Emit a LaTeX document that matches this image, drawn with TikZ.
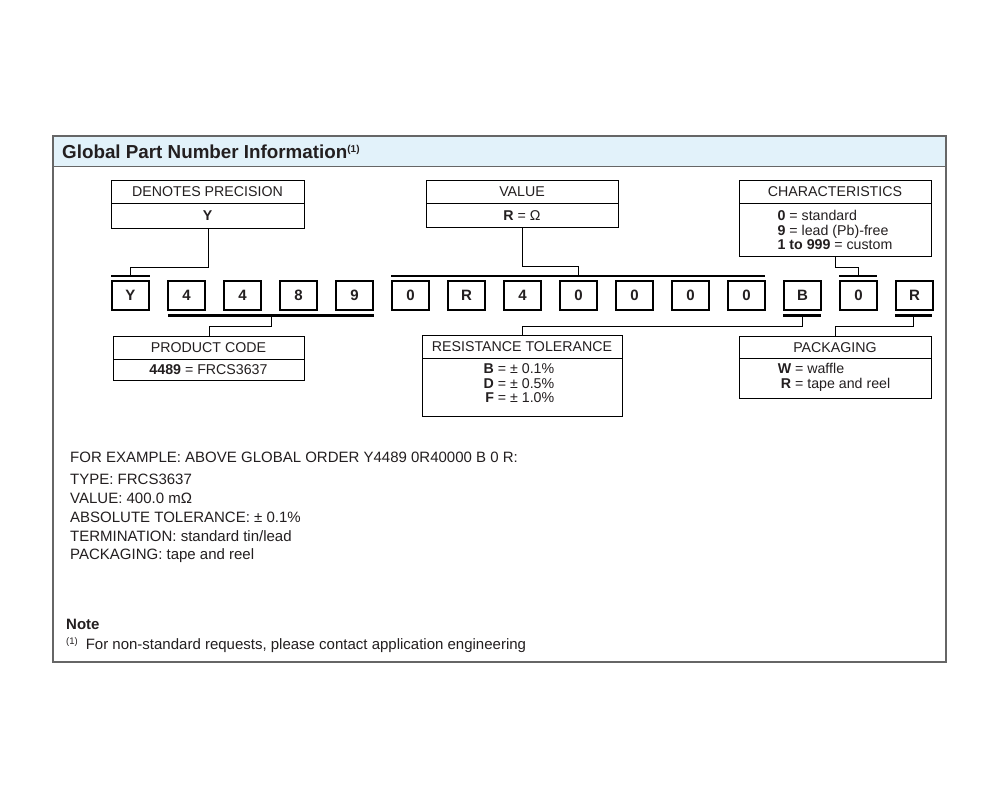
\documentclass[tikz,border=0pt]{standalone}
\usepackage{fontspec}
\setmainfont{Liberation Sans}
\usetikzlibrary{calc}
\definecolor{txt}{HTML}{231F20}
\definecolor{hdr}{HTML}{E2F2FA}
\definecolor{framec}{HTML}{666666}
\begin{document}
\begin{tikzpicture}[x=1pt,y=-1pt,
  every node/.style={text=txt, inner sep=0pt},
  fs/.style={font=\fontsize{14.2}{14.5}\selectfont},
  fl/.style={font=\fontsize{15}{15}\selectfont, anchor=base west},
  lbox/.style={draw=black, line width=0.9pt, anchor=north west, inner sep=0pt},
  letter/.style={draw=black, line width=1.1pt, minimum width=37pt, minimum height=29pt, font=\bfseries\fontsize{15}{15}\selectfont},
  bar/.style={fill=black, minimum height=2.6pt, inner sep=0pt},
  conn/.style={draw=black, line width=0.9pt},
  divider/.style={draw=black, line width=0.9pt}
]
\useasboundingbox (0,0) rectangle (1000,800);
\fill[white] (0,0) rectangle (1000,800);
% frame and header
\filldraw[fill=hdr, draw=framec, line width=1pt] (53,136) rectangle (946,166);
\draw[framec, line width=1.4pt] (53,136) rectangle (946,662);
\node[anchor=west, font=\bfseries\fontsize{18.8}{20}\selectfont] (title) at (62,152) {Global Part Number Information\raisebox{6pt}{\fontsize{10}{10}\selectfont(1)}};

% top boxes
\node[lbox, minimum width=193pt, minimum height=48pt] (dp) at (111,180) {};
\draw[divider] (111,203) -- (304,203);
\node[fs] (dpt) at (207.5,192) {DENOTES PRECISION};
\node[font=\bfseries\fontsize{14.2}{14}\selectfont] (dpv) at (207.5,215.5) {Y};

\node[lbox, minimum width=192pt, minimum height=47pt] (val) at (426,180) {};
\draw[divider] (426,203) -- (618,203);
\node[fs] (valt) at (522,192) {VALUE};
\node[fs] (valv) at (522,215.5) {\textbf{R} = Ω};

\node[lbox, minimum width=192pt, minimum height=76pt] (ch) at (739,180) {};
\draw[divider] (739,203) -- (931,203);
\node[fs] (cht) at (835,192) {CHARACTERISTICS};
\node[fs, align=left] (chv) at (835,230) {\textbf{0} = standard\\\textbf{9} = lead (Pb)-free\\\textbf{1 to 999} = custom};

% letters
\foreach \c [count=\i from 0] in {Y,4,4,8,9,0,R,4,0,0,0,0,B,0,R}
  \node[letter] (l\i) at (130.5+56*\i,295.5) {\c};

% bars
\node[bar, minimum width=39pt] (bY) at (130.5,276) {};
\node[bar, minimum width=374pt] (bV) at (578,276) {};
\node[bar, minimum width=38pt] (bC) at (858,276) {};
\node[bar, minimum width=206pt] (bP) at (271,315.5) {};
\node[bar, minimum width=38pt] (bB) at (802,315.5) {};
\node[bar, minimum width=37pt] (bR) at (913.5,315.5) {};

% bottom boxes
\node[lbox, minimum width=191pt, minimum height=44pt] (pc) at (113,336) {};
\draw[divider] (113,359) -- (304,359);
\node[fs] (pct) at (208.5,347.5) {PRODUCT CODE};
\node[fs] (pcv) at (208.5,369.5) {\textbf{4489} = FRCS3637};

\node[lbox, minimum width=200pt, minimum height=81pt] (rt) at (422,335) {};
\draw[divider] (422,358) -- (622,358);
\node[fs] (rtt) at (522,347) {RESISTANCE TOLERANCE};
\node[fs] (rtv) at (519,385.5) {\fontsize{14.2}{14.5}\selectfont\begin{tabular}{@{}r@{ = }l@{}}\textbf{B} & ± 0.1\%\\\textbf{D} & ± 0.5\%\\\textbf{F} & ± 1.0\%\end{tabular}};

\node[lbox, minimum width=192pt, minimum height=62pt] (pk) at (739,336) {};
\draw[divider] (739,358) -- (931,358);
\node[fs] (pkt) at (835,347.5) {PACKAGING};
\node[fs] (pkv) at (834,378) {\fontsize{14.2}{14.5}\selectfont\begin{tabular}{@{}r@{ = }l@{}}\textbf{W} & waffle\\\textbf{R} & tape and reel\end{tabular}};

% connectors
\draw[conn] (dp.south) -- ++(0,39) -| (bY.north);
\draw[conn] (val.south) -- ++(0,39) -| (bV.north);
\draw[conn] (ch.south) -- ++(0,11) -| (bC.north);
\draw[conn] (bP.south) -- ++(0,9) -| (pc.north);
\draw[conn] (bB.south) -- ++(0,9) -| (rt.north);
\draw[conn] (bR.south) -- ++(0,9) -| (pk.north);

% example text
\node[fl] (ex1) at (70,462) {FOR EXAMPLE: ABOVE GLOBAL ORDER Y4489 0R40000 B 0 R:};
\node[fl] (ex2) at (70,484) {TYPE: FRCS3637};
\node[fl] (ex3) at (70,503) {VALUE: 400.0 mΩ};
\node[fl] (ex4) at (70,522) {ABSOLUTE TOLERANCE: ± 0.1\%};
\node[fl] (ex5) at (70,541) {TERMINATION: standard tin/lead};
\node[fl] (ex6) at (70,559) {PACKAGING: tape and reel};

% note
\node[anchor=base west, font=\bfseries\fontsize{15}{15}\selectfont] (note) at (66,629) {Note};
\node[fl] (fn) at (66,649) {\raisebox{5pt}{\fontsize{9.5}{9.5}\selectfont(1)}\hspace{8pt}For non-standard requests, please contact application engineering};
\end{tikzpicture}
\end{document}
